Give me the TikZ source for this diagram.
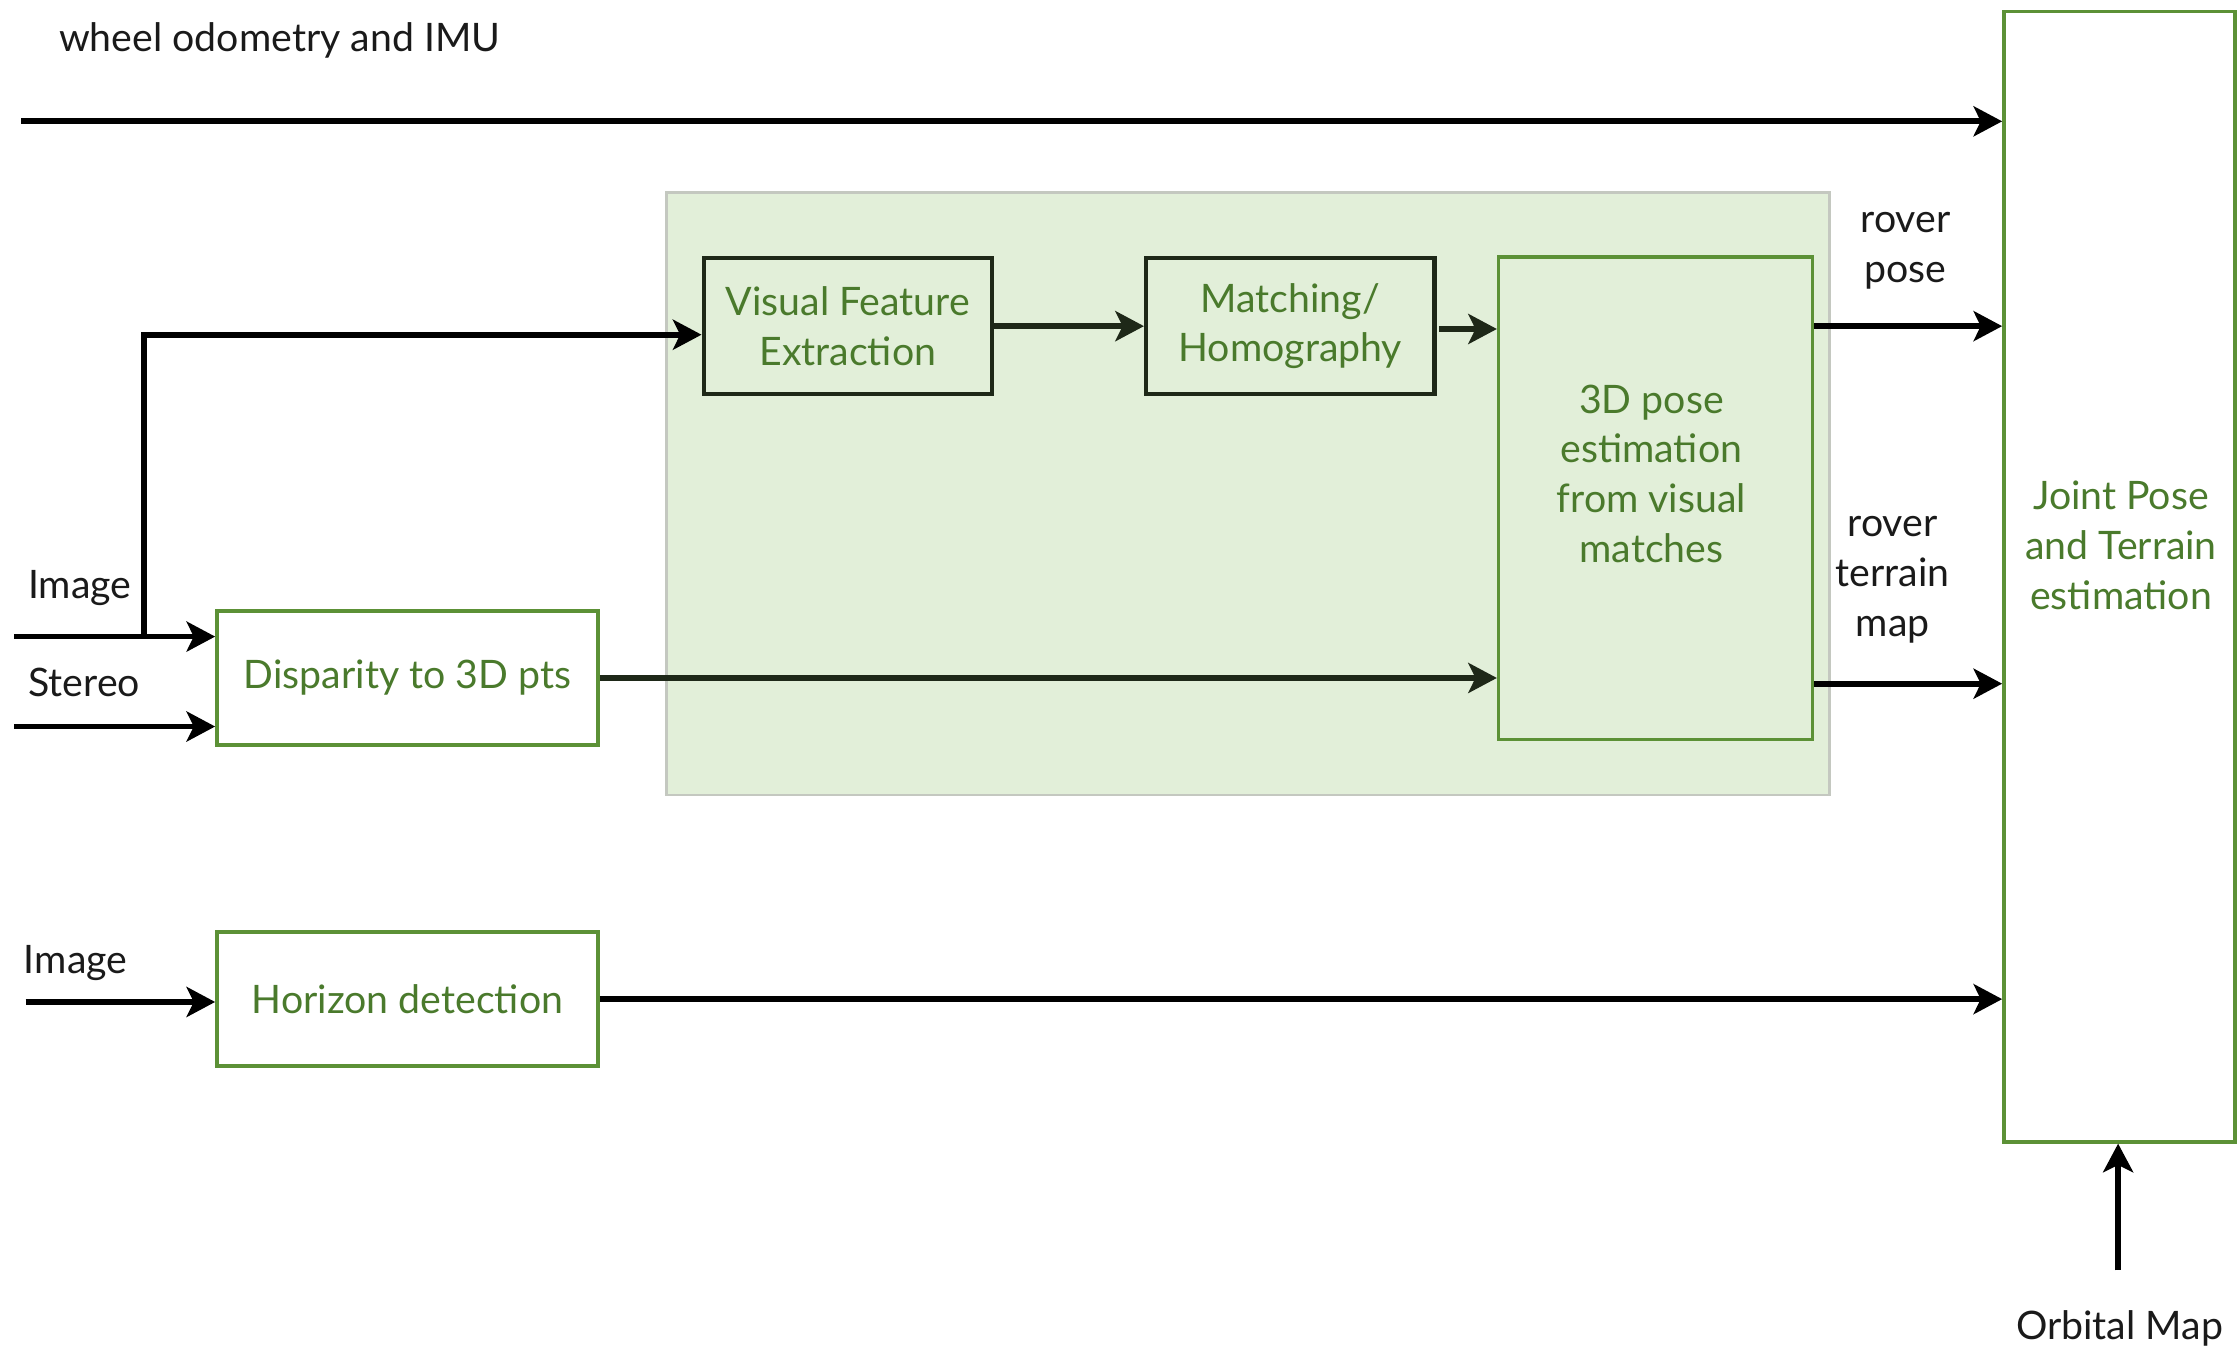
\documentclass[tikz,border=0pt]{standalone}
\usepackage{fontspec}
\setmainfont{Lato}
\usetikzlibrary{arrows.meta,calc}
\definecolor{txtgreen}{HTML}{4A7A2C}
\definecolor{boxgreen}{HTML}{5C9136}
\definecolor{bggreen}{HTML}{E2EFD9}
\definecolor{bgborder}{HTML}{C4C8C0}
\definecolor{darkborder}{HTML}{1E2818}
\definecolor{labelc}{HTML}{1A1A1A}
\tikzset{
  gbox/.style={draw=boxgreen, line width=2.5pt, text=txtgreen, align=center, inner sep=0pt},
  dbox/.style={draw=darkborder, line width=3pt, text=txtgreen, align=center, inner sep=0pt},
  arr/.style={draw=black, line width=4pt, -{Stealth[length=20pt,width=21pt,inset=5pt]}},
  darr/.style={arr, draw=darkborder},
  lbl/.style={text=labelc, align=center, inner sep=0pt},
  gtxt/.style={text=txtgreen, align=center, inner sep=0pt},
}
\begin{document}
\begin{tikzpicture}[x=1pt,y=-1pt, every node/.style={font=\fontsize{27.5}{35}\selectfont}]
\useasboundingbox (0,0) rectangle (1568,948);
% green background region
\node[draw=bgborder, fill=bggreen, line width=2pt, minimum width=815pt, minimum height=422pt, inner sep=0pt] (bg) at (874.5,346) {};
% boxes
\node[gbox, minimum width=162pt, minimum height=792pt] (joint) at (1485,404) {};
\node[gtxt] (jointtxt) at (1486,382) {Joint Pose\\and Terrain\\estimation};
\node[dbox, minimum width=202pt, minimum height=95pt] (vfe) at (594,228.5) {Visual Feature\\Extraction};
\node[dbox, minimum width=202pt, minimum height=95pt] (match) at (904,228.5) {Matching/\\Homography};
\node[gbox, minimum width=220pt, minimum height=338pt] (pose) at (1160,349) {};
\node[gtxt] (posetxt) at (1157,332) {3D pose\\estimation\\from visual\\matches};
\node[gbox, fill=white, minimum width=267pt, minimum height=94pt] (disp) at (285.5,475) {Disparity to 3D pts};
\node[gbox, fill=white, minimum width=267pt, minimum height=94pt] (horiz) at (285.5,700) {Horizon detection};
% labels
\node[lbl] (wheel) at (196,28) {wheel odometry and IMU};
\node[lbl] (img1l) at (56,412) {Image};
\node[lbl] (stl) at (59,478) {Stereo};
\node[lbl] (img2l) at (53,675) {Image};
\node[lbl] (posel) at (1335,176) {rover\\pose};
\node[lbl] (terl) at (1326,406) {rover\\terrain\\map};
\node[lbl] (orbl) at (1485,931) {Orbital Map};
% free ends
\coordinate (w0) at (15,85);
\coordinate (img1) at (10,446);
\coordinate (br) at (101,446);
\coordinate (st) at (10,509);
\coordinate (img2) at (18,702);
\coordinate (orb) at (1484,890);
% connectors
\draw[arr] (w0) -- (w0 -| joint.west);
\draw[arr] (img1) -- (img1 -| disp.west);
\draw[arr] (br) |- ([yshift=-6pt]vfe.west);
\draw[arr] (st) -- (st -| disp.west);
\draw[darr] (vfe.east) -- (match.west);
\draw[darr] ([xshift=2pt,yshift=-2pt]match.east) -- ([yshift=-2pt]match.east -| pose.west);
\draw[arr] (match.east -| pose.east) -- (match.east -| joint.west);
\draw[darr] (disp.east) -- (disp.east -| pose.west);
\draw[arr] ([yshift=-4pt]disp.east -| pose.east) -- ([yshift=-4pt]disp.east -| joint.west);
\draw[arr] (img2) -- (img2 -| horiz.west);
\draw[arr] (horiz.east) -- (horiz.east -| joint.west);
\draw[arr] (orb) -- (orb |- joint.south);
\end{tikzpicture}
\end{document}
